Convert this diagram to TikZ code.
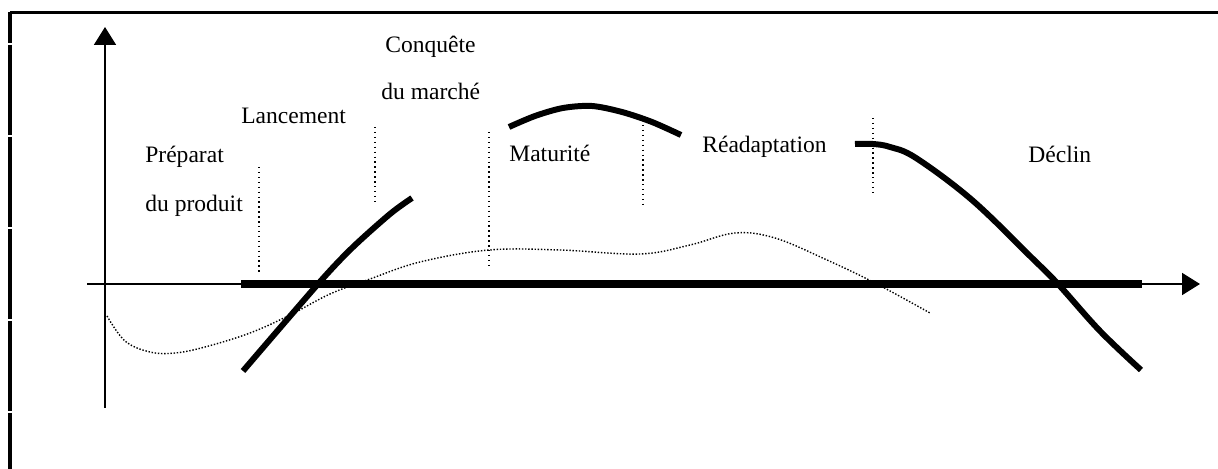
\documentclass[tikz,border=0pt]{standalone}
\usepackage{fontspec}
\setmainfont{Liberation Serif}
\usetikzlibrary{arrows.meta}

\begin{document}
\begin{tikzpicture}[x=0.02cm,y=-0.02cm,
    axis/.style={line width=1.1pt,-{Triangle[length=3.6mm,width=4.4mm]}},
    phase/.style={line width=3.4pt},
    border/.style={line width=1.8pt},
    sep/.style={line width=0.8pt,dotted},
    sales/.style={line width=0.8pt,densely dotted},
    lbl/.style={anchor=base west,inner sep=0pt,font=\fontsize{13.4}{16}\selectfont}]
  \useasboundingbox (0,0) rectangle (1218,469);
  % Frame
  \draw[border] (10,12.5) -- (1218,12.5);
  \foreach \ya/\yb in {12/43,45/135,137/227,229/319,321/411,413/469}
    \draw[border] (10,\ya) -- (10,\yb);

  % Draw axes
  \coordinate (O) at (105,284);
  \draw[axis] (105,408) -- (105,27) coordinate (yaxis);
  \draw[axis] (87,284) -- (1200,284) coordinate (xaxis);
  \draw[line width=4pt] (241,284) -- (1142,284);

  % Phase limits
  \draw[sep] (259,167) -- (259,273);
  \draw[sep] (375,127) -- (375,205);
  \draw[sep] (489,132) -- (489,268);
  \draw[sep] (643,125) -- (643,207);
  \draw[sep] (873,118) -- (873,193);

  % Thick curves
  \draw[phase] plot[smooth] coordinates {(243,371) (318,284) (352,248) (390,214) (412,198)};
  \draw[phase] plot[smooth] coordinates {(509,127) (535,116) (563,108) (592,106) (622,112) (652,122) (681,135)};
  \draw[phase] plot[smooth,tension=0.6] coordinates {(855,144) (873,144) (890,147) (916,158) (972,200)
      (1032,258) (1058,284) (1100,331) (1141,370)};

  % Dotted curve
  \draw[sales] plot[smooth,tension=0.6] coordinates {(107,316) (125,341) (150,352) (175,353)
      (205,347) (250,333) (290,315) (330,294) (370,279) (420,262) (489,250) (560,250)
      (640,254) (690,245) (735,233) (775,238) (827,260) (875,283) (930,313)};

  % Labels (first one cut by its cell)
  \begin{scope}
    \clip (140,130) rectangle (223,175);
    \node[lbl] (prep) at (145,163) {Préparation};
  \end{scope}
  \node[lbl] (prod)  at (145,212) {du produit};
  \node[lbl] (lanc)  at (241,124) {Lancement};
  \node[lbl] (conq)  at (385,53)  {Conquête};
  \node[lbl] (march) at (381,100) {du marché};
  \node[lbl] (matur) at (509,162) {Maturité};
  \node[lbl] (reada) at (702,153) {Réadaptation};
  \node[lbl] (decl)  at (1028,163) {Déclin};
\end{tikzpicture}
\end{document}
